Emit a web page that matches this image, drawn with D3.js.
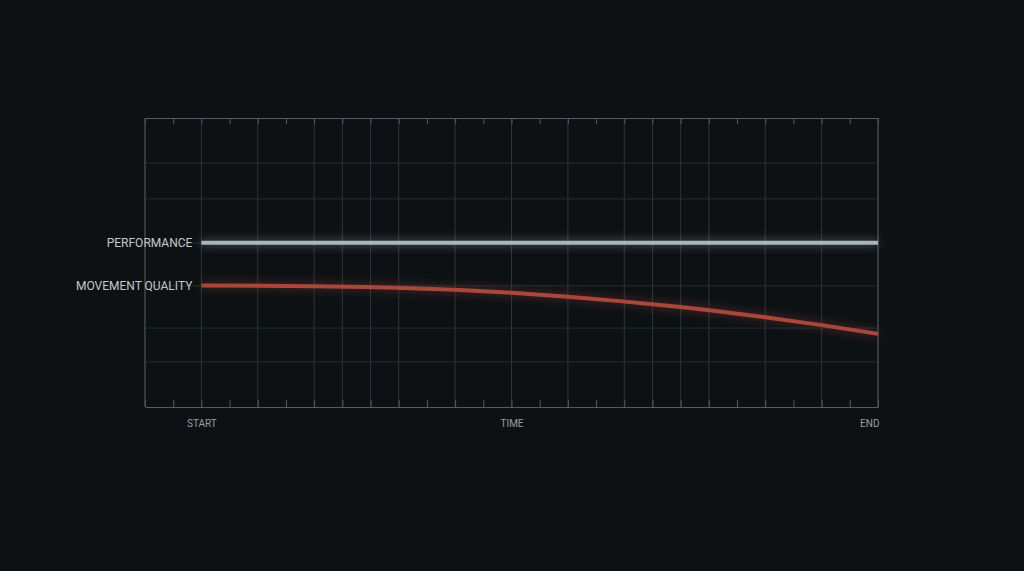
<!DOCTYPE html>
<html>
<head>
<meta charset="utf-8">
<script src="https://cdn.jsdelivr.net/npm/d3@7"></script>
<style>
  html, body { margin: 0; padding: 0; background: #0d1114; }
  svg { display: block; }
</style>
</head>
<body>
<svg id="chart"></svg>
<script>
// time steps (27 ticks, index 0..26)
const steps = d3.range(0, 27);
// steps that carry a full vertical grid line
const gridSteps = [0, 2, 4, 6, 7, 8, 9, 11, 13, 15, 17, 18, 19, 20, 22, 24, 26];
// horizontal grid levels
const gridLevels = [15.6, 27.3, 41.9, 56.7, 72.0, 84.4];

const axisLabels = ["START", "TIME", "END"];
const axisLabelSteps = [2, 13, 26];

const seriesNames = ["PERFORMANCE", "MOVEMENT QUALITY"];
const lineSteps = [2, 4, 6, 8, 9, 11, 13, 15, 17, 18, 19, 20, 22, 24, 26];
const performance = [56.8, 56.8, 56.8, 56.8, 56.8, 56.8, 56.8, 56.8, 56.8, 56.8, 56.8, 56.8, 56.8, 56.8, 56.8];
const movementQuality = [42.0, 42.0, 41.8, 41.5, 41.3, 40.6, 39.6, 38.2, 36.5, 35.6, 34.6, 33.5, 31.1, 28.4, 25.3];

const WIDTH = 1024;
const HEIGHT = 571;

const MARGIN = { top: 118, bottom: 164, left: 145, right: 146 };

const svg = d3.select("#chart")
  .attr("width", WIDTH)
  .attr("height", HEIGHT);

svg.append("rect")
  .attr("width", WIDTH)
  .attr("height", HEIGHT)
  .attr("fill", "#0d1114");

const defs = svg.append("defs");

// soft glow under the lines (user space region so flat lines still render)
function glow(id, blur, opacity) {
  const f = defs.append("filter")
    .attr("id", id)
    .attr("filterUnits", "userSpaceOnUse")
    .attr("x", 0).attr("y", 0)
    .attr("width", WIDTH).attr("height", HEIGHT);
  f.append("feGaussianBlur")
    .attr("in", "SourceGraphic")
    .attr("stdDeviation", blur)
    .attr("result", "blur");
  f.append("feComponentTransfer")
    .attr("in", "blur")
    .attr("result", "soft")
    .append("feFuncA")
    .attr("type", "linear")
    .attr("slope", opacity);
  const m = f.append("feMerge");
  m.append("feMergeNode").attr("in", "soft");
  m.append("feMergeNode").attr("in", "SourceGraphic");
}
glow("glowWhite", 5, 0.6);
glow("glowRed", 5, 0.6);

const x = d3.scaleLinear()
  .domain([0, 26])
  .range([MARGIN.left, WIDTH - MARGIN.right]);

const y = d3.scaleLinear()
  .domain([0, 100])
  .range([HEIGHT - MARGIN.bottom, MARGIN.top]);

// grid
const grid = svg.append("g").attr("class", "grid");

grid.selectAll("line.v")
  .data(gridSteps)
  .enter()
  .append("line")
  .attr("class", "v")
  .attr("x1", d => x(d)).attr("x2", d => x(d))
  .attr("y1", y(100)).attr("y2", y(0))
  .attr("stroke", "#2e3439")
  .attr("stroke-width", 1);

grid.selectAll("line.h")
  .data(gridLevels)
  .enter()
  .append("line")
  .attr("class", "h")
  .attr("x1", x(0)).attr("x2", x(26))
  .attr("y1", d => y(d)).attr("y2", d => y(d))
  .attr("stroke", "#282e33")
  .attr("stroke-width", 1);

// frame with tick marks
const axisTop = d3.axisTop(x).tickValues(steps).tickSize(-6).tickSizeOuter(0).tickFormat("");
const axisBot = d3.axisBottom(x).tickValues(steps).tickSize(-7).tickSizeOuter(0).tickFormat("");

svg.append("g")
  .attr("transform", `translate(0, ${y(100)})`)
  .call(axisTop)
  .call(g => g.selectAll("path, line").attr("stroke", "#555b60"));

svg.append("g")
  .attr("transform", `translate(0, ${y(0)})`)
  .call(axisBot)
  .call(g => g.selectAll("path, line").attr("stroke", "#555b60"));

svg.append("g")
  .call(g => g.selectAll("line")
    .data([0, 26])
    .enter()
    .append("line")
    .attr("x1", d => x(d)).attr("x2", d => x(d))
    .attr("y1", y(100)).attr("y2", y(0))
    .attr("stroke", "#4a5055"));

// x labels
const labelAxis = d3.axisBottom(x)
  .tickValues(axisLabelSteps)
  .tickSize(0)
  .tickPadding(13)
  .tickFormat((d, i) => axisLabels[i]);

svg.append("g")
  .attr("transform", `translate(0, ${y(0)})`)
  .call(labelAxis)
  .call(g => g.select(".domain").remove())
  .call(g => g.selectAll("text")
    .attr("fill", "#9a9fa3")
    .attr("font-family", "Roboto, 'Liberation Sans', sans-serif")
    .attr("font-size", 10)
    .attr("text-anchor", (d, i) => i === 2 ? "end" : "middle")
    .attr("dx", (d, i) => i === 2 ? 1 : 0));

// lines
const line = d3.line()
  .x((d, i) => x(lineSteps[i]))
  .y(d => y(d))
  .curve(d3.curveBasis);

svg.append("path")
  .datum(performance)
  .attr("d", line)
  .attr("fill", "none")
  .attr("stroke", "#a8b5bd")
  .attr("stroke-width", 4)
  .attr("filter", "url(#glowWhite)");

svg.append("path")
  .datum(movementQuality)
  .attr("d", line)
  .attr("fill", "none")
  .attr("stroke", "#a9463b")
  .attr("stroke-width", 4)
  .attr("filter", "url(#glowRed)");

// series labels
svg.selectAll("text.series")
  .data([performance[0], movementQuality[0]])
  .enter()
  .append("text")
  .attr("class", "series")
  .attr("x", x(lineSteps[0]) - 9)
  .attr("y", d => y(d))
  .attr("dy", "0.35em")
  .attr("text-anchor", "end")
  .attr("fill", "#c4c8cb")
  .attr("font-family", "Roboto, 'Liberation Sans', sans-serif")
  .attr("font-size", 12)
  .text((d, i) => seriesNames[i]);
</script>
</body>
</html>
